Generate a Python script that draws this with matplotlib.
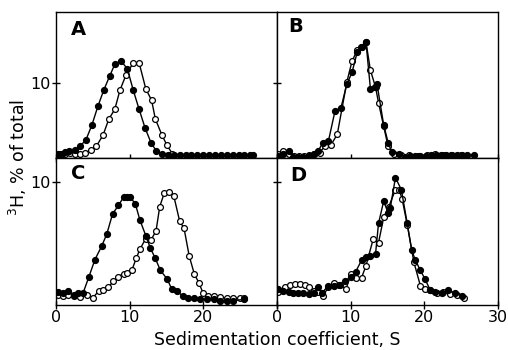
import matplotlib
matplotlib.use("Agg")
import matplotlib.pyplot as plt

# panel A
a_fill_x = [0.3, 0.8, 1.2, 1.8, 2.6, 3.3, 4.1, 4.9, 5.7, 6.5, 7.3, 8.0, 8.8, 9.7, 10.5, 11.3, 12.1, 12.9,
            13.6, 14.4, 15.2, 16.0, 16.8, 17.6, 18.4, 19.2, 20.0, 20.8, 21.6, 22.4, 23.2, 24.0, 24.8,
            25.6, 26.4, 26.8]
a_fill_y = [0.4, 0.5, 0.7, 0.9, 1.0, 1.5, 2.4, 4.4, 6.9, 9.1, 11.0, 12.6, 13.1, 12.0, 9.1, 6.5, 4.0, 2.0,
            0.9, 0.5, 0.3, 0.3, 0.3, 0.3, 0.3, 0.3, 0.3, 0.3, 0.3, 0.3, 0.3, 0.3, 0.3, 0.3, 0.3, 0.3]
a_open_x = [0.55, 1.2, 1.9, 2.6, 3.3, 4.0, 4.7, 5.5, 6.4, 7.2, 8.0, 8.7, 9.5, 10.5, 11.3, 12.2, 13.0,
            13.5, 14.4, 15.1, 15.8]
a_open_y = [0.4, 0.5, 0.6, 0.5, 0.5, 0.6, 1.0, 1.5, 3.0, 5.2, 6.5, 9.1, 11.1, 12.8, 12.8, 9.3, 7.7,
            5.2, 3.0, 1.6, 0.5]

# panel B
b_fill_x = [0.2, 0.9, 1.6, 2.2, 2.9, 3.6, 4.3, 5.0, 5.6, 6.3, 7.0, 7.9, 8.7, 9.5, 10.2, 10.9, 11.5,
            12.1, 12.7, 13.3, 13.6, 14.5, 15.1, 15.6, 16.6, 17.4, 18.1, 18.8, 19.5, 20.2, 20.9, 21.6,
            22.3, 23.0, 23.7, 24.4, 25.1, 25.8, 26.7]
b_fill_y = [0.2, 0.5, 0.9, 0.1, 0.1, 0.1, 0.2, 0.4, 0.9, 2.0, 2.2, 6.3, 6.7, 9.9, 11.5, 14.2, 15.0,
            15.6, 9.3, 9.5, 9.9, 4.4, 2.0, 0.7, 0.4, 0.1, 0.2, 0.2, 0.2, 0.2, 0.3, 0.3, 0.3, 0.3, 0.3,
            0.3, 0.3, 0.3, 0.3]
b_open_x = [0.2, 0.9, 1.6, 2.3, 3.0, 3.7, 4.4, 5.1, 5.8, 6.5, 7.3, 8.2, 9.5, 10.2, 10.9, 11.4, 12.1,
            12.7, 13.4, 13.8, 14.5, 15.1, 15.9, 16.8, 18.0, 19.2, 20.4, 21.5, 22.6, 23.8, 25.0]
b_open_y = [0.4, 0.9, 0.5, 0.2, 0.2, 0.2, 0.3, 0.4, 0.6, 1.5, 1.6, 3.1, 10.2, 13.0, 14.5, 15.0, 15.6,
            11.8, 9.5, 7.4, 4.2, 1.5, 0.5, 0.3, 0.3, 0.2, 0.3, 0.5, 0.3, 0.3, 0.3]

# panel C
c_fill_x = [0.3, 1.0, 1.7, 2.4, 3.0, 3.7, 4.5, 5.3, 6.2, 6.9, 7.7, 8.5, 9.2, 9.7, 10.1, 10.8, 11.4,
            12.2, 12.8, 13.5, 14.2, 15.1, 15.7, 16.4, 17.2, 18.0, 18.7, 19.6, 20.5, 21.4, 22.3, 23.2,
            24.1, 25.5]
c_fill_y = [0.9, 0.8, 1.0, 0.7, 0.8, 0.85, 2.2, 3.6, 4.7, 5.7, 7.4, 8.1, 8.8, 8.8, 8.8, 8.2, 6.9,
            5.6, 4.6, 3.7, 2.7, 2.0, 1.2, 1.0, 0.6, 0.45, 0.4, 0.3, 0.3, 0.3, 0.2, 0.2, 0.2, 0.3]
c_open_x = [0.3, 1.0, 1.7, 2.4, 3.3, 4.2, 5.0, 5.8, 6.4, 7.1, 7.8, 8.5, 9.2, 9.7, 10.3, 10.9, 11.4,
            12.2, 12.9, 13.6, 14.1, 14.7, 15.4, 16.0, 16.8, 17.4, 18.1, 18.8, 19.4, 20.0, 20.7, 21.4,
            22.3, 23.2, 24.1, 25.0, 25.5]
c_open_y = [0.7, 0.6, 0.7, 0.6, 0.5, 0.7, 0.4, 1.0, 1.1, 1.3, 1.8, 2.2, 2.45, 2.5, 2.7, 3.7, 4.45,
            5.35, 5.2, 6.0, 8.0, 9.1, 9.2, 8.9, 6.8, 6.2, 3.9, 2.4, 1.7, 0.8, 0.6, 0.6, 0.5, 0.4, 0.4,
            0.4, 0.4]

# panel D
d_fill_x = [0.2, 0.9, 1.6, 2.2, 2.9, 3.6, 4.3, 5.0, 5.6, 6.1, 6.9, 7.7, 8.6, 9.3, 10.1, 10.7, 11.5,
            12.1, 12.7, 13.4, 13.8, 14.5, 15.1, 15.4, 16.1, 16.9, 17.7, 18.3, 18.8, 19.5, 20.1, 20.8,
            21.5, 22.4, 23.3, 24.2, 25.1]
d_fill_y = [1.2, 1.0, 0.9, 0.8, 0.8, 0.8, 0.75, 0.85, 1.35, 0.8, 1.4, 1.4, 1.5, 1.85, 2.2, 2.6, 3.55,
            3.8, 3.9, 4.1, 6.6, 8.45, 7.5, 7.9, 10.4, 9.4, 6.6, 4.4, 3.55, 2.7, 2.0, 1.1, 0.9, 0.8,
            1.05, 0.8, 0.6]
d_open_x = [0.2, 1.1, 1.8, 2.5, 3.1, 3.8, 4.4, 5.0, 5.6, 6.3, 7.0, 7.7, 8.4, 9.4, 10.1, 10.7, 11.5,
            12.1, 13.1, 13.8, 14.5, 15.2, 16.1, 16.6, 17.0, 17.7, 18.6, 19.5, 20.1, 20.8, 21.7, 22.6,
            23.5, 24.5, 25.4]
d_open_y = [0.95, 1.3, 1.5, 1.55, 1.6, 1.5, 1.35, 1.0, 0.95, 0.6, 1.35, 1.7, 1.5, 1.2, 2.45, 2.1, 2.1,
            3.1, 5.35, 5.0, 7.1, 8.0, 9.4, 9.4, 8.65, 6.5, 3.4, 1.4, 1.2, 1.1, 0.8, 0.95, 0.75, 0.65, 0.4]

panels = [
    ("A", a_fill_x, a_fill_y, a_open_x, a_open_y),
    ("B", b_fill_x, b_fill_y, b_open_x, b_open_y),
    ("C", c_fill_x, c_fill_y, c_open_x, c_open_y),
    ("D", d_fill_x, d_fill_y, d_open_x, d_open_y),
]
ytop = [19.7, 19.7, 12.0, 12.0]
# letter positions in axes fraction
lab_pos = [(0.07, 0.877), (0.05, 0.9), (0.07, 0.9), (0.06, 0.885)]

fig = plt.figure(figsize=(5.08, 3.5), dpi=100)
gs = fig.add_gridspec(2, 2, left=0.110, right=0.980, top=0.966, bottom=0.129, wspace=0, hspace=0)

for i, (lab, fx, fy, ox, oy) in enumerate(panels):
    ax = fig.add_subplot(gs[i // 2, i % 2])
    ax.plot(ox, oy, "-o", color="black", lw=1, ms=4.2, mfc="white", mec="black", mew=0.9, zorder=2)
    ax.plot(fx, fy, "-o", color="black", lw=1, ms=4.2, mfc="black", mec="black", zorder=3)
    ax.set_xlim(0, 30)
    ax.set_ylim(-0.15, ytop[i])
    ax.set_yticks([10])
    ax.set_xticks([0, 10, 20, 30])
    ax.tick_params(direction="inout", length=6, width=1, labelsize=11.5, pad=1)
    for s in ax.spines.values():
        s.set_linewidth(1)
    if i % 2 == 0:
        ax.set_yticklabels(["10"])
    else:
        ax.set_yticklabels([])
    if i >= 2:
        if i == 2:
            ax.set_xticklabels(["0", "10", "20", ""])
        else:
            ax.set_xticklabels(["0", "10", "20", "30"])
    else:
        ax.set_xticklabels([])
    ax.text(lab_pos[i][0], lab_pos[i][1], lab, transform=ax.transAxes,
            fontsize=14, fontweight="bold", ha="left", va="center")

fig.text(0.545, 0.028, "Sedimentation coefficient, S", ha="center", va="center", fontsize=12.5)
fig.text(0.035, 0.55, "$^3$H, % of total", ha="center", va="center", rotation=90, fontsize=12.5)

fig.savefig("out.png", dpi=100)
